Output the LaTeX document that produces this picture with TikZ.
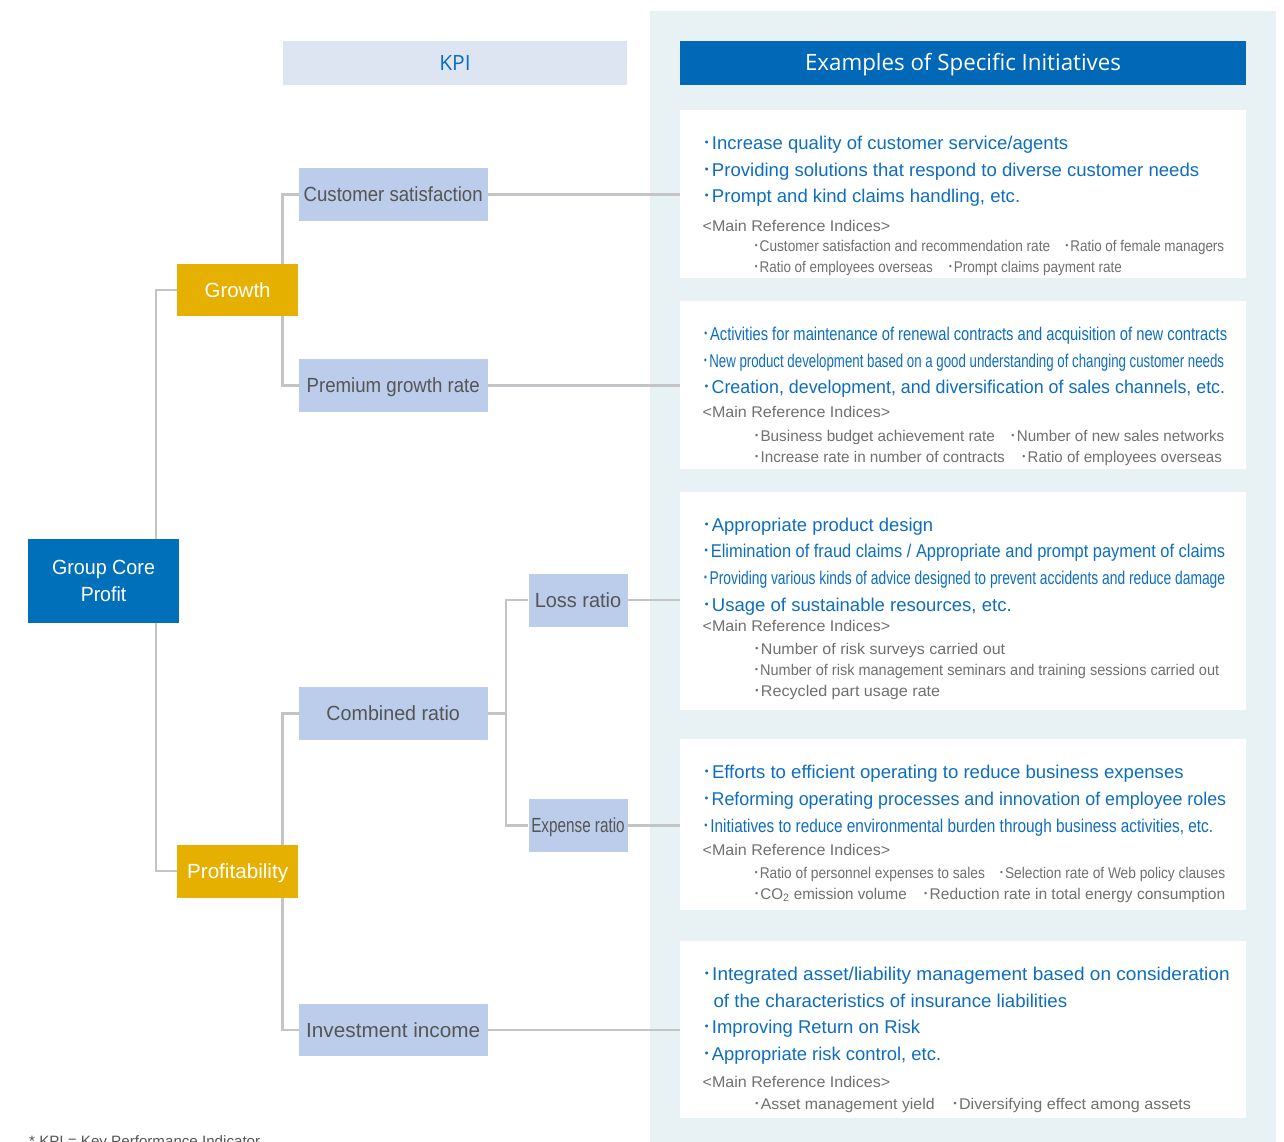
\documentclass[tikz,border=0pt]{standalone}
\usepackage{fontspec}
\setmainfont{Liberation Sans}
\newfontfamily\hdrfont{Open Sans}
\newfontfamily\cjk{Noto Sans CJK JP}
\newcommand\bul{{\cjk ･}}
\definecolor{panelc}{HTML}{E8F1F4}
\definecolor{hdrblue}{HTML}{0068B7}
\definecolor{gcpblue}{HTML}{0070BA}
\definecolor{goldc}{HTML}{E6B000}
\definecolor{kpic}{HTML}{BCCDEB}
\definecolor{kpihdr}{HTML}{DDE5F3}
\definecolor{kpitext}{HTML}{555555}
\definecolor{ablue}{HTML}{0E6EBE}
\definecolor{tgray}{HTML}{707070}
\definecolor{linec}{HTML}{C4C4C8}
\newlength\fitlen
\newcommand\fitw[2]{\settowidth\fitlen{#2}\pgfmathsetmacro\fitratio{#1/\fitlen}\scalebox{\fitratio}[1]{#2}}
\pgfdeclarelayer{back}
\pgfdeclarelayer{lines}
\pgfsetlayers{back,lines,main}
\begin{document}
\begin{tikzpicture}[x=1pt,y=-1pt,
  conn/.style={draw=linec,line width=2.2pt},
  kpibox/.style={fill=kpic,minimum width=189pt,minimum height=52.5pt,inner sep=0pt,text=kpitext,font=\fontsize{20.5}{24}\selectfont,text height=14.7pt,text depth=0pt},
  goldbox/.style={fill=goldc,minimum width=121pt,minimum height=52.5pt,inner sep=0pt,text=white,font=\fontsize{20.5}{24}\selectfont,text height=14.7pt,text depth=0pt},
  wbox/.style={fill=white,minimum width=566pt,inner sep=0pt},
  bl/.style={anchor=base west,inner sep=0pt,text=ablue,font=\fontsize{18.5}{22}\selectfont},
  gr/.style={anchor=base west,inner sep=0pt,text=tgray,font=\fontsize{15.5}{18}\selectfont}]
\useasboundingbox (0,0) rectangle (1284,1142);
\begin{pgfonlayer}{back}
\fill[panelc] (650,11) rectangle (1276,1142);
\end{pgfonlayer}
% headers
\node[fill=kpihdr,minimum width=344pt,minimum height=44pt,inner sep=0pt,text=ablue,font=\hdrfont\fontsize{21}{24}\selectfont,text height=15pt,text depth=0pt] (kpih) at (455,63) {KPI};
\node[fill=hdrblue,minimum width=566pt,minimum height=44pt,inner sep=0pt,text=white,font=\hdrfont\fontsize{22.5}{26}\selectfont,text height=16pt,text depth=0pt] (exh) at (963,63) {\fitw{316}{Examples of Specific Initiatives}};
% tree boxes
\node[fill=gcpblue,minimum width=151pt,minimum height=83.5pt,inner sep=0pt,text=white,align=center,font=\fontsize{20.5}{27.5}\selectfont] (gcp) at (103.5,580.8) {\fitw{103}{Group Core}\\\fitw{45.5}{Profit}};
\node[goldbox] (growth) at (237.6,289.8) {\fitw{66}{Growth}};
\node[goldbox] (profit) at (237.6,871.3) {\fitw{101}{Profitability}};
\node[kpibox] (cs) at (393.2,194.5) {\fitw{179}{Customer satisfaction}};
\node[kpibox] (pgr) at (393.2,385.5) {\fitw{173}{Premium growth rate}};
\node[kpibox] (cr) at (393.2,713.5) {\fitw{133.5}{Combined ratio}};
\node[kpibox] (ii) at (393.2,1030) {\fitw{174}{Investment income}};
\node[kpibox,minimum width=99pt] (lr) at (578,600.3) {\fitw{86.5}{Loss ratio}};
\node[kpibox,minimum width=99pt] (er) at (578,825.5) {\fitw{93.5}{Expense ratio}};
% white boxes
\node[wbox,minimum height=168pt] (box1) at (963,194) {};
\node[wbox,minimum height=168pt] (box2) at (963,385) {};
\node[wbox,minimum height=218pt] (box3) at (963,601) {};
\node[wbox,minimum height=171pt] (box4) at (963,824.5) {};
\node[wbox,minimum height=177pt] (box5) at (963,1029.5) {};
% box 1
\node[bl] (b1l1) at (702.5,150) {\fitw{365.5}{\bul Increase quality of customer service/agents}};
\node[bl] (b1l2) at (702.5,176.5) {\fitw{496.5}{\bul Providing solutions that respond to diverse customer needs}};
\node[bl] (b1l3) at (702.5,203) {\fitw{317.5}{\bul Prompt and kind claims handling, etc.}};
\node[gr] (b1r) at (702.5,231) {\fitw{187.5}{<Main Reference Indices>}};
\node[gr] (b1s1a) at (752.7,251) {\fitw{297.3}{\bul Customer satisfaction and recommendation rate}};
\node[gr] (b1s1b) at (1063.5,251) {\fitw{160.5}{\bul Ratio of female managers}};
\node[gr] (b1s2a) at (752.7,272) {\fitw{180}{\bul Ratio of employees overseas}};
\node[gr] (b1s2b) at (947,272) {\fitw{174.6}{\bul Prompt claims payment rate}};
% box 2
\node[bl] (b2l1) at (702.5,340) {\fitw{524.5}{\bul Activities for maintenance of renewal contracts and acquisition of new contracts}};
\node[bl] (b2l2) at (702.5,367) {\fitw{521.5}{\bul New product development based on a good understanding of changing customer needs}};
\node[bl] (b2l3) at (702.5,393.5) {\fitw{522.5}{\bul Creation, development, and diversification of sales channels, etc.}};
\node[gr] (b2r) at (702.5,417.5) {\fitw{187.5}{<Main Reference Indices>}};
\node[gr] (b2s1a) at (752.7,441.5) {\fitw{242}{\bul Business budget achievement rate}};
\node[gr] (b2s1b) at (1009,441.5) {\fitw{215}{\bul Number of new sales networks}};
\node[gr] (b2s2a) at (752.7,462.5) {\fitw{252}{\bul Increase rate in number of contracts}};
\node[gr] (b2s2b) at (1020,462.5) {\fitw{201.6}{\bul Ratio of employees overseas}};
% box 3
\node[bl] (b3l1) at (702.5,531.5) {\fitw{230.5}{\bul Appropriate product design}};
\node[bl] (b3l2) at (702.5,557.5) {\fitw{522.5}{\bul Elimination of fraud claims / Appropriate and prompt payment of claims}};
\node[bl] (b3l3) at (702.5,584) {\fitw{522.5}{\bul Providing various kinds of advice designed to prevent accidents and reduce damage}};
\node[bl] (b3l4) at (702.5,611) {\fitw{309}{\bul Usage of sustainable resources, etc.}};
\node[gr] (b3r) at (702.5,631) {\fitw{187.5}{<Main Reference Indices>}};
\node[gr] (b3s1) at (752.7,654) {\fitw{252.3}{\bul Number of risk surveys carried out}};
\node[gr] (b3s2) at (752.7,675) {\fitw{466.3}{\bul Number of risk management seminars and training sessions carried out}};
\node[gr] (b3s3) at (752.7,696) {\fitw{187.3}{\bul Recycled part usage rate}};
% box 4
\node[bl] (b4l1) at (702.5,778) {\fitw{481}{\bul Efforts to efficient operating to reduce business expenses}};
\node[bl] (b4l2) at (702.5,805) {\fitw{523.5}{\bul Reforming operating processes and innovation of employee roles}};
\node[bl] (b4l3) at (702.5,832) {\fitw{510.5}{\bul Initiatives to reduce environmental burden through business activities, etc.}};
\node[gr] (b4r) at (702.5,855) {\fitw{187.5}{<Main Reference Indices>}};
\node[gr] (b4s1a) at (752.7,878) {\fitw{232}{\bul Ratio of personnel expenses to sales}};
\node[gr] (b4s1b) at (998,878) {\fitw{227}{\bul Selection rate of Web policy clauses}};
\node[gr] (b4s2a) at (752.7,899) {\fitw{153.8}{\bul CO\textsubscript{2} emission volume}};
\node[gr] (b4s2b) at (921.7,899) {\fitw{303.3}{\bul Reduction rate in total energy consumption}};
% box 5
\node[bl] (b5l1) at (702.5,980) {\fitw{527}{\bul Integrated asset/liability management based on consideration}};
\node[bl] (b5l2) at (713.4,1007) {\fitw{353.6}{of the characteristics of insurance liabilities}};
\node[bl] (b5l3) at (702.5,1033) {\fitw{217.5}{\bul Improving Return on Risk}};
\node[bl] (b5l4) at (702.5,1060) {\fitw{238.5}{\bul Appropriate risk control, etc.}};
\node[gr] (b5r) at (702.5,1087) {\fitw{187.5}{<Main Reference Indices>}};
\node[gr] (b5s1a) at (752.7,1109) {\fitw{181.8}{\bul Asset management yield}};
\node[gr] (b5s1b) at (950.8,1109) {\fitw{240}{\bul Diversifying effect among assets}};
% footnote
\node[anchor=base west,inner sep=0pt,text=kpitext,font=\fontsize{15}{18}\selectfont] (foot) at (29,1146) {\fitw{231}{* KPI = Key Performance Indicator}};
% connectors
\path (lr.west) ++(-22,0) coordinate (fork);
\begin{pgfonlayer}{lines}
\draw[conn] (growth.west) -- ++(-21,0) |- (profit.west);
\draw[conn] (cs.west) -- ++(-16,0) |- (pgr.west);
\draw[conn] (cr.west) -- ++(-16,0) |- (ii.west);
\draw[conn] (lr.west) -- (fork) |- (er.west);
\draw[conn] (cr.east) -- (cr.east -| fork);
\draw[conn] (cs.east) -- (cs.east -| box1.west);
\draw[conn] (pgr.east) -- (pgr.east -| box2.west);
\draw[conn] (lr.east) -- (lr.east -| box3.west);
\draw[conn] (er.east) -- (er.east -| box4.west);
\draw[conn] (ii.east) -- (ii.east -| box5.west);
\end{pgfonlayer}
\end{tikzpicture}
\end{document}
